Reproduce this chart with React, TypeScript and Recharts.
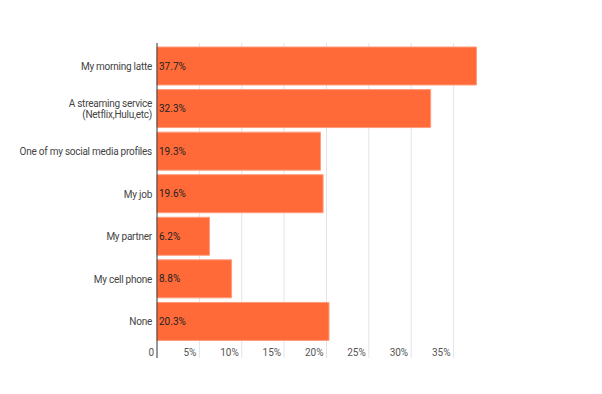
import { BarChart, Bar, XAxis, YAxis, CartesianGrid, LabelList } from "recharts";

const categories = [
  "My morning latte",
  "A streaming service\n(Netflix,Hulu,etc)",
  "One of my social media profiles",
  "My job",
  "My partner",
  "My cell phone",
  "None",
];
const shares = [37.7, 32.3, 19.3, 19.6, 6.2, 8.8, 20.3];
const xTicks = [0, 5, 10, 15, 20, 25, 30, 35];

const data = categories.map((c, i) => ({ name: c, value: shares[i] }));

const FONT = "Roboto, 'Noto Sans', sans-serif";

function CatTick(props: any) {
  const { x, y, payload } = props;
  const lines = String(payload.value).split("\n");
  const lh = 11.7;
  const start = y - ((lines.length - 1) * lh) / 2;
  return (
    <text x={x} y={start} textAnchor="end" fontSize={10} letterSpacing={-0.25} fill="#444" fontFamily={FONT}>
      {lines.map((l, i) => (
        <tspan key={i} x={x} y={start + i * lh} dy="0.35em">{l}</tspan>
      ))}
    </text>
  );
}

function ValTick(props: any) {
  const { x, y, payload } = props;
  return (
    <text x={x - 3} y={y - 2} textAnchor="end" fontSize={10} fill="#555" fontFamily={FONT}>
      {payload.value === 0 ? "0" : `${payload.value}%`}
    </text>
  );
}

export default function App() {
  return (
    <div style={{ position: "absolute", left: 0, top: 0 }}>
      <BarChart
        width={602}
        height={394}
        data={data}
        layout="vertical"
        margin={{ top: 43, right: 123, bottom: 35, left: 0 }}
      >
        <CartesianGrid horizontal={false} stroke="#e4e4e4" verticalValues={xTicks.slice(1)} />
        <XAxis
          type="number"
          domain={[0, 38]}
          ticks={xTicks}
          height={1}
          axisLine={false}
          tickLine={false}
          tickSize={0}
          tickMargin={0}
          tick={<ValTick />}
        />
        <YAxis
          type="category"
          dataKey="name"
          width={157}
          padding={{ top: 2, bottom: 15 }}
          axisLine={{ stroke: "#333", strokeWidth: 1 }}
          tickLine={false}
          tickSize={0}
          tickMargin={5}
          interval={0}
          tick={<CatTick />}
        />
        <Bar dataKey="value" barSize={38} fill="#ff6a38" stroke="#ff9c7c" strokeWidth={1} isAnimationActive={false}>
          <LabelList
            dataKey="value"
            position="insideLeft"
            offset={2}
            formatter={(v: any) => `${v}%`}
            style={{ fontSize: 10, fill: "#222", fontFamily: FONT }}
          />
        </Bar>
      </BarChart>
    </div>
  );
}
